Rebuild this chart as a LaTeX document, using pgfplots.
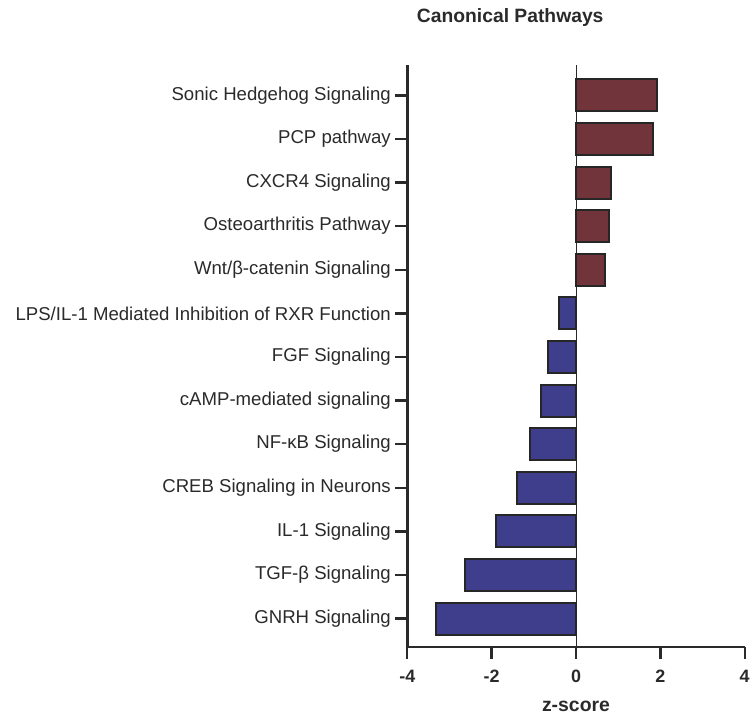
\documentclass[border=0pt]{standalone}
\usepackage{fontspec}
\setmainfont{Liberation Sans}
\usepackage{pgfplots}
\pgfplotsset{compat=1.18}
\definecolor{posbar}{HTML}{70343A}
\definecolor{negbar}{HTML}{3E3E8C}
\definecolor{axcol}{HTML}{2A2A2A}
\begin{document}
\begin{tikzpicture}
\path (0,0) rectangle (753bp,717bp);
\begin{axis}[
  at={(408bp,69bp)}, anchor=south west,
  width=338bp, height=583bp, scale only axis,
  xmin=-4, xmax=4, ymin=-0.65, ymax=12.7,
  xtick={-4,-2,0,2,4},
  ytick={0,1,2,3,4,5,6,7,8,9,10,11,12},
  yticklabels={GNRH Signaling, TGF-β Signaling, IL-1 Signaling, CREB Signaling in Neurons, NF-κB Signaling, cAMP-mediated signaling, FGF Signaling, LPS/IL-1 Mediated Inhibition of RXR Function, Wnt/β-catenin Signaling, Osteoarthritis Pathway, CXCR4 Signaling, PCP pathway, Sonic Hedgehog Signaling},
  axis x line*=bottom, axis y line*=left,
  axis line style={line width=2.6bp, axcol},
  tick align=outside, major tick length=12bp,
  tick style={line width=2.4bp, axcol},
  /pgf/number format/assume math mode=true,
  yticklabel style={font=\fontsize{18.7}{20}\selectfont, color=axcol, xshift=-1bp},
  xticklabel style={font=\bfseries\fontsize{18}{20}\selectfont, color=axcol, yshift=-8bp},
  title={Canonical Pathways},
  title style={at={(0.305,1)}, anchor=base, yshift=36bp, font=\bfseries\fontsize{19.4}{20}\selectfont, color=axcol},
  xlabel={z-score},
  xlabel style={at={(0.5,0)}, anchor=center, yshift=-60bp, font=\bfseries\fontsize{19.5}{20}\selectfont, color=axcol},
  clip=false,
]
\addplot[axcol, line width=1bp] coordinates {(0,-0.65) (0,12.7)};
\addplot[xbar, bar shift=0pt, bar width=32bp, fill=posbar, draw=black!85, line width=2bp] coordinates {
(1.93,12) (1.83,11) (0.83,10) (0.79,9) (0.69,8)};
\addplot[xbar, bar shift=0pt, bar width=32bp, fill=negbar, draw=black!85, line width=2bp] coordinates {
(-0.40,7) (-0.67,6) (-0.83,5) (-1.09,4) (-1.40,3) (-1.90,2) (-2.64,1) (-3.33,0)};
\end{axis}
\end{tikzpicture}
\end{document}
